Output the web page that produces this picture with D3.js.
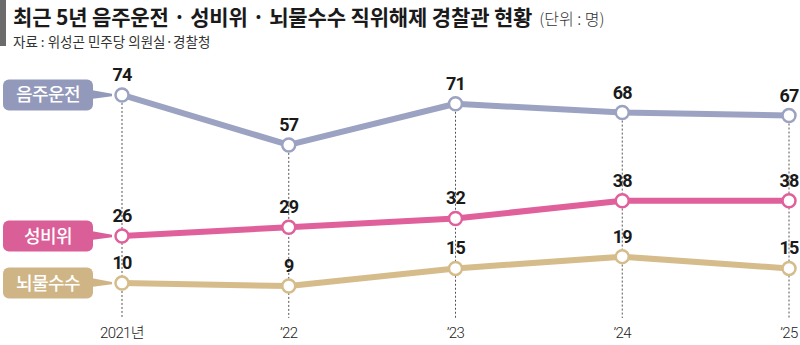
<!DOCTYPE html>
<html><head><meta charset="utf-8">
<script src="https://cdn.jsdelivr.net/npm/d3@7"></script>
<style>body{margin:0;background:#fff;} svg{display:block;font-family:"Noto Sans CJK KR","Noto Sans",sans-serif;}</style>
</head><body>
<svg id="c" width="800" height="345"></svg>
<script>
const years = ["2021년", "’22", "’23", "’24", "’25"];
const seriesNames = ["음주운전", "성비위", "뇌물수수"];
const drunk = [74, 57, 71, 68, 67];
const misconduct = [26, 29, 32, 38, 38];
const bribery = [10, 9, 15, 19, 15];
const colors = ["#9ba2c2", "#e0609b", "#d5bc8a"];
const boxColors = ["#9399bb", "#da5f98", "#cfb585"];

const series = [drunk, misconduct, bribery].map((v, i) => ({name: seriesNames[i], values: v, color: colors[i], box: boxColors[i]}));

const svg = d3.select("#c");
const x = d3.scalePoint().domain(years).range([122, 789]);
const y = d3.scaleLinear().domain([0, 80]).range([312.5, 77.3]);

// header
svg.append("rect").attr("x", 0).attr("y", 0).attr("width", 6).attr("height", 46).attr("fill", "#6b6b6b");
const t = svg.append("text").attr("x", 13).attr("y", 24.6).attr("fill", "#1a1a1a");
t.append("tspan").attr("font-size", 21).attr("font-weight", 700).attr("letter-spacing", -0.15).text("최근 5년 음주운전 · 성비위 · 뇌물수수 직위해제 경찰관 현황");
t.append("tspan").attr("font-size", 16).attr("font-weight", 300).attr("dx", 7).attr("fill", "#333").text("(단위 : 명)");
svg.append("text").attr("x", 13).attr("y", 46.5).attr("font-size", 13.5).attr("fill", "#333").attr("letter-spacing", 0).text("자료 : 위성곤 민주당 의원실·경찰청");

// dashed verticals
years.forEach((yr, i) => {
  svg.append("line").attr("x1", x(yr)).attr("x2", x(yr))
    .attr("y1", y(drunk[i])).attr("y2", 318)
    .attr("stroke", "#555").attr("stroke-width", 1).attr("stroke-dasharray", "2,2");
});

// x labels
svg.append("g").selectAll("text").data(years).join("text")
  .attr("x", d => x(d)).attr("y", 338).attr("text-anchor", "middle")
  .attr("font-family", "Roboto, 'Noto Sans CJK KR', sans-serif")
  .attr("font-size", 15).attr("font-weight", 300).attr("fill", "#222").attr("letter-spacing", -0.6)
  .text(d => d);

const line = d3.line().x((d, i) => x(years[i])).y(d => y(d));

series.forEach(s => {
  svg.append("path").attr("d", line(s.values)).attr("fill", "none")
    .attr("stroke", s.color).attr("stroke-width", 6).attr("stroke-linejoin", "round");
  svg.append("g").selectAll("circle").data(s.values).join("circle")
    .attr("cx", (d, i) => x(years[i])).attr("cy", d => y(d)).attr("r", 6.5)
    .attr("fill", "#fff").attr("stroke", s.color).attr("stroke-width", 2.5);
  svg.append("g").selectAll("text").data(s.values).join("text")
    .attr("x", (d, i) => x(years[i])).attr("y", d => y(d) - 14)
    .attr("text-anchor", "middle").attr("font-family", "Roboto, 'Liberation Sans', sans-serif")
    .attr("font-size", 18).attr("font-weight", 700).attr("fill", "#1a1a1a").attr("letter-spacing", -0.8)
    .text(d => d);
  // label box
  const cy = y(s.values[0]);
  const bh = 31, bx = 3, bw = 90;
  const g = svg.append("g");
  g.append("path").attr("d", `M${bx + bw - 2},${cy - 5} L${x(years[0]) - 10},${cy - 1.2} L${x(years[0]) - 10},${cy + 1.2} L${bx + bw - 2},${cy + 4} Z`)
    .attr("fill", s.box);
  g.append("rect").attr("x", bx).attr("y", cy - bh / 2).attr("width", bw).attr("height", bh)
    .attr("rx", 6).attr("fill", s.box);
  g.append("text").attr("x", bx + bw / 2).attr("y", cy + 6.5).attr("text-anchor", "middle")
    .attr("font-size", 18).attr("font-weight", 500).attr("fill", "#fff").attr("letter-spacing", -0.5)
    .text(s.name);
});
</script>
</body></html>
